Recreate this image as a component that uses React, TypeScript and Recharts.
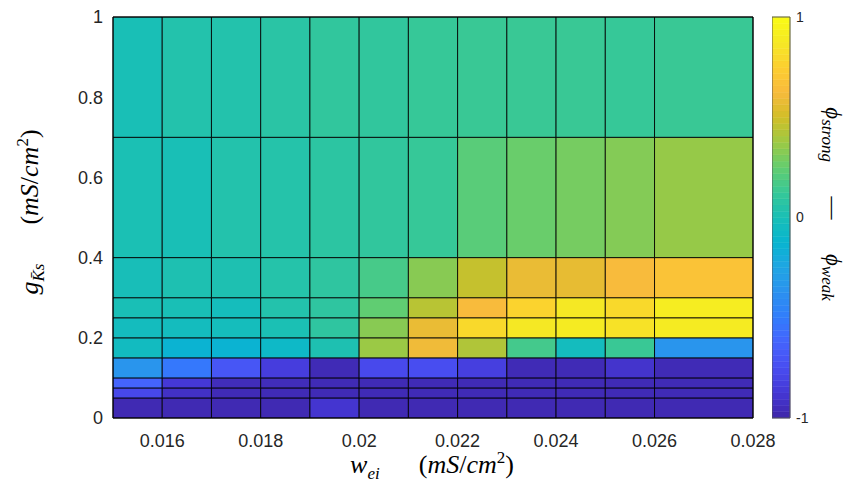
import React from 'react';
import { ComposedChart, XAxis, YAxis, ReferenceArea } from 'recharts';

// cell edges (pcolor style grid)
const xEdges = [0.015, 0.016, 0.017, 0.018, 0.019, 0.02, 0.021, 0.022, 0.023, 0.024, 0.025, 0.026, 0.028];
const yEdges = [0, 0.05, 0.075, 0.1, 0.15, 0.2, 0.25, 0.3, 0.4, 0.7, 1];

const xTicks = [0.016, 0.018, 0.02, 0.022, 0.024, 0.026, 0.028];
const xTickLabels = ['0.016', '0.018', '0.02', '0.022', '0.024', '0.026', '0.028'];
const yTicks = [0, 0.2, 0.4, 0.6, 0.8, 1];
const yTickLabels = ['0', '0.2', '0.4', '0.6', '0.8', '1'];
const cbTicks = [-1, 0, 1];
const cbTickLabels = ['-1', '0', '1'];

// phi_strong - phi_weak, one row per y band (bottom to top)
const row0 = [-0.97, -0.97, -0.97, -0.97, -0.89, -0.97, -0.97, -0.97, -0.97, -0.97, -0.97, -0.97];
const row1 = [-0.78, -0.92, -0.96, -0.96, -0.96, -0.96, -0.96, -0.96, -0.96, -0.96, -0.96, -0.96];
const row2 = [-0.62, -0.87, -0.95, -0.95, -0.96, -0.96, -0.96, -0.96, -0.96, -0.96, -0.96, -0.96];
const row3 = [-0.35, -0.52, -0.7, -0.84, -0.96, -0.77, -0.75, -0.83, -0.96, -0.96, -0.9, -0.96];
const row4 = [-0.05, -0.14, -0.14, -0.08, 0.02, 0.37, 0.6, 0.42, 0.16, -0.04, 0.13, -0.35];
const row5 = [-0.04, -0.04, -0.03, 0.01, 0.09, 0.33, 0.58, 0.8, 0.87, 0.89, 0.84, 0.89];
const row6 = [0.0, 0.0, -0.03, 0.04, 0.09, 0.24, 0.44, 0.63, 0.77, 0.87, 0.8, 0.9];
const row7 = [-0.01, 0.02, 0.02, 0.05, 0.09, 0.17, 0.33, 0.47, 0.58, 0.57, 0.63, 0.68];
const row8 = [0.01, 0.0, 0.04, 0.05, 0.08, 0.1, 0.12, 0.22, 0.26, 0.29, 0.32, 0.36];
const row9 = [0.0, 0.04, 0.04, 0.07, 0.1, 0.1, 0.12, 0.13, 0.13, 0.13, 0.12, 0.13];
const rows = [row0, row1, row2, row3, row4, row5, row6, row7, row8, row9];

// parula, every 4th entry of the 64 colour map
const parulaStops = [
  [62, 38, 168], [69, 55, 213], [72, 77, 240], [69, 99, 253], [50, 124, 252],
  [43, 145, 239], [32, 165, 227], [8, 181, 208], [25, 191, 182], [55, 200, 151],
  [100, 205, 111], [157, 201, 67], [209, 191, 39], [248, 186, 61], [252, 207, 48],
  [245, 233, 36], [249, 251, 21],
];

const parula = (v: number) => {
  const t = Math.max(0, Math.min(1, (v + 1) / 2)) * (parulaStops.length - 1);
  const i = Math.min(Math.floor(t), parulaStops.length - 2);
  const f = t - i;
  const a = parulaStops[i];
  const b = parulaStops[i + 1];
  const c = a.map((av, k) => Math.round(av + (b[k] - av) * f));
  return `rgb(${c[0]},${c[1]},${c[2]})`;
};

const cells = rows.flatMap((row, i) =>
  row.map((value, j) => ({
    x1: xEdges[j],
    x2: xEdges[j + 1],
    y1: yEdges[i],
    y2: yEdges[i + 1],
    value,
  }))
);

const cbBands = Array.from({ length: 64 }, (_, k) => ({
  y1: -1 + (2 * k) / 64,
  y2: -1 + (2 * (k + 1)) / 64,
  color: parula(-1 + (2 * (k + 0.5)) / 64),
}));

const tickStyle = { fontSize: 18, fill: '#262626', fontFamily: 'Liberation Sans, Arial, sans-serif' };
const mathFont = 'Liberation Serif, Times New Roman, serif';

export default function App() {
  return (
    <div style={{ position: 'absolute', left: 0, top: 0, width: 848, height: 485, background: '#fff' }}>
      <div style={{ position: 'absolute', left: 0, top: 0 }}>
        <ComposedChart width={848} height={485} margin={{ top: 17, right: 95, bottom: 37, left: 0 }}>
          <XAxis
            type="number"
            dataKey="x"
            domain={[0.015, 0.028]}
            ticks={xTicks}
            tickFormatter={(v: number) => xTickLabels[xTicks.indexOf(v)] ?? String(v)}
            allowDataOverflow
            axisLine={false}
            tickLine={false}
            tickMargin={10}
            tick={tickStyle}
            height={30}
          />
          <YAxis
            type="number"
            dataKey="y"
            domain={[0, 1]}
            ticks={yTicks}
            tickFormatter={(v: number) => yTickLabels[yTicks.indexOf(v)] ?? String(v)}
            allowDataOverflow
            axisLine={false}
            tickLine={false}
            tickMargin={4}
            tick={tickStyle}
            width={113}
          />
          {cells.map((c, idx) => (
            <ReferenceArea
              key={idx}
              x1={c.x1}
              x2={c.x2}
              y1={c.y1}
              y2={c.y2}
              fill={parula(c.value)}
              fillOpacity={1}
              stroke="#000"
              strokeWidth={1}
              strokeOpacity={0.85}
            />
          ))}
          <ReferenceArea x1={0.015} x2={0.028} y1={0} y2={1} fill="none" stroke="#000" strokeWidth={1} />
        </ComposedChart>
      </div>

      <div style={{ position: 'absolute', left: 772, top: 0 }}>
        <ComposedChart width={76} height={485} margin={{ top: 17, right: 0, bottom: 67, left: 0 }}>
          <XAxis type="number" dataKey="x" domain={[0, 1]} allowDataOverflow hide />
          <YAxis
            type="number"
            dataKey="y"
            orientation="right"
            domain={[-1, 1]}
            ticks={cbTicks}
            tickFormatter={(v: number) => cbTickLabels[cbTicks.indexOf(v)] ?? String(v)}
            allowDataOverflow
            axisLine={false}
            tickLine={false}
            tickSize={4}
            tickMargin={2}
            tick={{ ...tickStyle, fontSize: 14 }}
            width={58}
          />
          {cbBands.map((b, k) => (
            <ReferenceArea key={k} x1={0} x2={1} y1={b.y1} y2={b.y2} fill={b.color} fillOpacity={1} stroke={b.color} strokeWidth={0.5} />
          ))}
          <ReferenceArea x1={0} x2={1} y1={-1} y2={1} fill="none" stroke="#555" strokeWidth={1} />
        </ComposedChart>
      </div>

      <svg width={848} height={485} style={{ position: 'absolute', left: 0, top: 0, pointerEvents: 'none' }}>
        <text transform="translate(38,212) rotate(-90)" textAnchor="middle" fontFamily={mathFont} fontSize={26} fill="#000">
          <tspan fontStyle="italic">g</tspan>
          <tspan fontStyle="italic" fontSize={17} dy={6}>{'K\u0304s'}</tspan>
          <tspan dy={-6}>{'\u2003\u2002('}</tspan>
          <tspan fontStyle="italic">mS</tspan>
          <tspan>/</tspan>
          <tspan fontStyle="italic">cm</tspan>
          <tspan fontSize={17} dy={-10}>2</tspan>
          <tspan dy={10}>)</tspan>
        </text>
        <text x={432} y={473} textAnchor="middle" fontFamily={mathFont} fontSize={26} fill="#000">
          <tspan fontStyle="italic">w</tspan>
          <tspan fontStyle="italic" fontSize={17} dy={6}>ei</tspan>
          <tspan dy={-6}>{'\u2003\u2002('}</tspan>
          <tspan fontStyle="italic">mS</tspan>
          <tspan>/</tspan>
          <tspan fontStyle="italic">cm</tspan>
          <tspan fontSize={17} dy={-10}>2</tspan>
          <tspan dy={10}>)</tspan>
        </text>
        <text transform="translate(826,204) rotate(90)" textAnchor="middle" fontFamily={mathFont} fontSize={23} fill="#000">
          <tspan fontStyle="italic">{'\u03d5'}</tspan>
          <tspan fontStyle="italic" fontSize={17} dy={4}>strong</tspan>
          <tspan dy={-4}>{'\u2003\u2002\u2014\u2003\u2002'}</tspan>
          <tspan fontStyle="italic">{'\u03d5'}</tspan>
          <tspan fontStyle="italic" fontSize={17} dy={4}>weak</tspan>
        </text>
      </svg>
    </div>
  );
}
